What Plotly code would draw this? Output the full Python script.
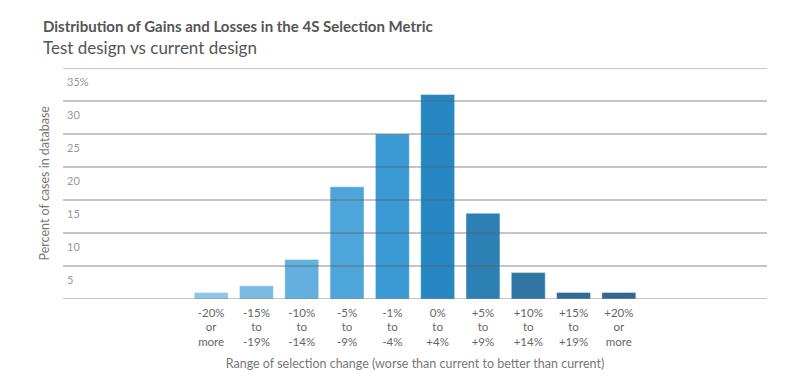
import plotly.graph_objects as go

categories = ["-20%<br>or<br>more", "-15%<br>to<br>-19%", "-10%<br>to<br>-14%", "-5%<br>to<br>-9%",
              "-1%<br>to<br>-4%", "0%<br>to<br>+4%", "+5%<br>to<br>+9%", "+10%<br>to<br>+14%",
              "+15%<br>to<br>+19%", "+20%<br>or<br>more"]
values = [1, 2, 6, 17, 25, 31, 13, 4, 1, 1]
bar_colors = ["#8ec5e8", "#7bbae3", "#63afdd", "#4ea5d9", "#3b99d3",
              "#2787c3", "#2c80b4", "#3075a3", "#316c99", "#336890"]
y_ticks = [0, 5, 10, 15, 20, 25, 30, 35]
y_tick_text = ["", "5", "10", "15", "20", "25", "30", "35%"]

FONT = "Lato"
# page body has an 8px default margin; the figure is placed accordingly
OFF = 8
PL, PT = 63 - OFF, 68 - OFF        # plot area left/top in figure coords
PW, PH = 704, 231                  # plot area size

fig = go.Figure()
fig.add_trace(go.Bar(
    x=list(range(len(categories))), y=values,
    marker=dict(color=bar_colors, line=dict(color="rgba(255,255,255,0.45)", width=1)),
    hoverinfo="skip",
))

# gridlines drawn above the bars, as in the reference
for v in y_ticks:
    fig.add_shape(type="line", xref="paper", yref="y", x0=0, x1=1, y0=v, y1=v,
                  line=dict(color="rgba(95,95,95,0.48)", width=1.6), layer="above")

annotations = []
# y tick labels sit just below their gridlines, inside the plot
for v, t in zip(y_ticks, y_tick_text):
    if t:
        annotations.append(dict(text=t, xref="paper", yref="y", x=2 / PW, y=v, yshift=-13,
                                xanchor="left", yanchor="middle", showarrow=False,
                                font=dict(size=11, color="#999", family=FONT)))

annotations += [
    dict(text="<b>Distribution of Gains and Losses in the 4S Selection Metric</b>",
         xref="paper", yref="paper", x=(41 - 63) / PW, y=1 + (68 - 26) / PH,
         xanchor="left", yanchor="middle", showarrow=False,
         font=dict(size=15, color="#555", family=FONT)),
    dict(text="Test design vs current design",
         xref="paper", yref="paper", x=(41 - 63) / PW, y=1 + (68 - 47) / PH,
         xanchor="left", yanchor="middle", showarrow=False,
         font=dict(size=17, color="#555", family=FONT)),
    dict(text="Percent of cases in database", xref="paper", yref="paper",
         x=(44 - 63) / PW, y=0.5, textangle=-90, xanchor="center", yanchor="middle",
         showarrow=False, font=dict(size=12.5, color="#777", family=FONT)),
]

W, H = 792, 376
fig.update_layout(
    width=W, height=H,
    margin=dict(l=PL, r=W - PL - PW, t=PT, b=H - PT - PH, autoexpand=False),
    paper_bgcolor="white", plot_bgcolor="white",
    showlegend=False,
    bargap=0.25,
    font=dict(family=FONT, color="#666"),
    xaxis=dict(
        range=[-3.27, 12.27], automargin=False,
        tickmode="array", tickvals=list(range(len(categories))), ticktext=categories,
        tickfont=dict(size=11.5, color="#666"), ticklabelstandoff=5,
        showgrid=False, zeroline=False, showline=False, ticks="",
        title=dict(text="Range of selection change (worse than current to better than current)",
                   font=dict(size=12.5, color="#777"), standoff=11),
        fixedrange=True,
    ),
    yaxis=dict(
        range=[0, 35], automargin=False,
        showticklabels=False,
        showgrid=False, zeroline=False, showline=False, ticks="",
        fixedrange=True,
    ),
    annotations=annotations,
)

fig.write_html("out.html")
